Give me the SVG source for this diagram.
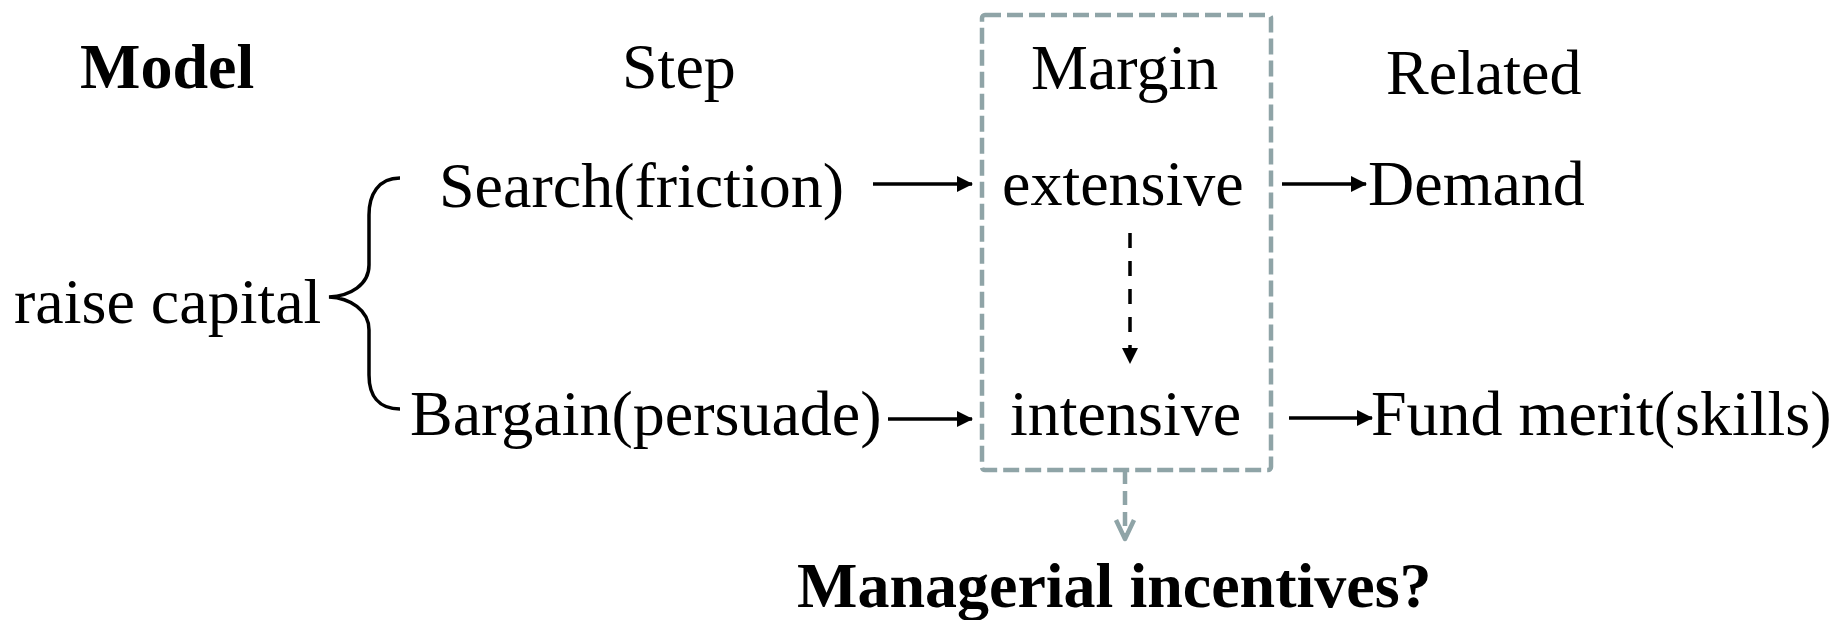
<svg xmlns="http://www.w3.org/2000/svg" width="1837" height="620" viewBox="0 0 1837 620">
<defs>
<style>
text{font-family:"Liberation Serif","Times New Roman",serif;font-size:64px;fill:#000}
.b{font-weight:bold}
.ln{stroke:#000;stroke-width:3.5;fill:none}
.gr{stroke:#8fa4a7;stroke-width:4.5;fill:none}
</style>
<marker id="ah" markerWidth="16" markerHeight="16" refX="15" refY="8" orient="auto" markerUnits="userSpaceOnUse">
<path d="M0,0 L16,8 L0,16 Z" fill="#000"/>
</marker>
</defs>
<rect width="1837" height="620" fill="#fff"/>
<g id="headers">
<text id="h-model" class="b" x="80" y="88">Model</text>
<text id="h-step" x="622" y="88">Step</text>
<text id="h-margin" x="1031" y="89">Margin</text>
<text id="h-related" x="1386" y="94">Related</text>
</g>
<g id="margin-box"><rect x="982" y="15" width="289" height="455" rx="3" class="gr" stroke-dasharray="16 6"/></g>
<g id="n-raise"><text x="14" y="323">raise capital</text></g>
<g id="n-search"><text x="439" y="207">Search(friction)</text></g>
<g id="n-bargain"><text x="410" y="435">Bargain(persuade)</text></g>
<g id="n-extensive"><text x="1002" y="205">extensive</text></g>
<g id="n-intensive"><text x="1010" y="435">intensive</text></g>
<g id="n-demand"><text x="1368" y="205">Demand</text></g>
<g id="n-fund"><text x="1371" y="435">Fund merit(skills)</text></g>
<g id="n-managerial"><text class="b" x="797" y="607">Managerial incentives?</text></g>
<g id="connectors">
<path class="ln" d="M400,178 C378,178 369,195 369,215 L369,265 C369,285 350,296 329,297 C350,298 369,310 369,330 L369,375 C369,395 378,409 400,409"/>
<line class="ln" x1="873" y1="184" x2="972" y2="184" marker-end="url(#ah)"/>
<line class="ln" x1="1282" y1="184" x2="1366" y2="184" marker-end="url(#ah)"/>
<line class="ln" x1="888" y1="419" x2="972" y2="419" marker-end="url(#ah)"/>
<line class="ln" x1="1289" y1="418" x2="1372" y2="418" marker-end="url(#ah)"/>
<line class="ln" x1="1130" y1="233" x2="1130" y2="363" stroke-width="3" stroke-dasharray="15 13" marker-end="url(#ah)"/>
<line class="gr" x1="1125" y1="470" x2="1125" y2="538" stroke-dasharray="14 7"/>
<polyline class="gr" points="1116,520 1125,539 1134,520" stroke-linejoin="round"/>
</g>
</svg>
